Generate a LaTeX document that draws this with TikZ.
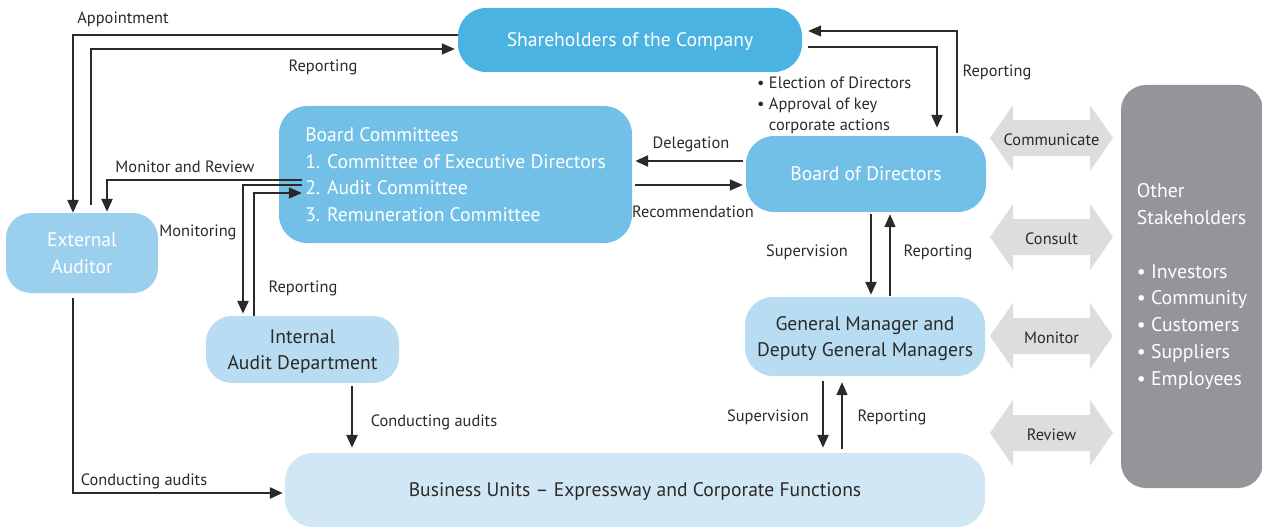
\documentclass[tikz,border=0pt]{standalone}
\usepackage{fontspec}
\setmainfont{PT Sans}
\usetikzlibrary{arrows.meta,calc}
\definecolor{ink}{HTML}{2B2A29}
\definecolor{shblue}{HTML}{4AB3E1}
\definecolor{midblue}{HTML}{72C0E8}
\definecolor{eablue}{HTML}{9AD0EE}
\definecolor{paleblue}{HTML}{B8DCF1}
\definecolor{bublue}{HTML}{D2E7F5}
\definecolor{stgray}{HTML}{939598}
\definecolor{argray}{HTML}{DCDDDE}
\begin{document}
\begin{tikzpicture}[x=1pt,y=-1pt,
  box/.style={rounded corners=28pt, inner sep=0pt, align=center,
    font=\fontsize{19.6}{26.5}\selectfont},
  lbl/.style={font=\fontsize{16.4}{21}\selectfont, text=ink, inner sep=0pt, yshift=-1.5pt},
  thk/.style={line width=2.6pt, draw=ink, -{Triangle[length=13pt,width=11pt]}},
  thn/.style={line width=1.6pt, draw=ink, -{Triangle[length=13pt,width=11pt]}},
]
\useasboundingbox (0,0) rectangle (1262,527);

% boxes
\node[box, fill=shblue, text=white, minimum width=344, minimum height=64, text depth=0pt] (sh) at (630,40) {Shareholders of the Company};
\node[box, fill=midblue, text=white, minimum width=353, minimum height=137, align=left] (bc) at (455.5,174.5)
  {Board Committees\\1. Committee of Executive Directors\\2. Audit Committee\\3. Remuneration Committee};
\node[box, fill=midblue, text=white, minimum width=240, minimum height=76] (bod) at (866,174) {Board of Directors};
\node[box, rounded corners=25pt, fill=eablue, text=white, minimum width=152, minimum height=80, text depth=0pt] (ea) at (82,253) {External\\Auditor};
\node[box, rounded corners=26pt, fill=paleblue, text=ink, minimum width=193, minimum height=67, text depth=0pt] (ia) at (302.5,349.5) {Internal\\Audit Department};
\node[box, fill=paleblue, text=ink, minimum width=240, minimum height=79, text depth=0pt] (gm) at (865,336.5) {General Manager and\\Deputy General Managers};
\node[box, fill=bublue, text=ink, minimum width=700, minimum height=74, text depth=0pt] (bu) at (635,490) {Business Units -- Expressway and Corporate Functions};
\node[box, rounded corners=25pt, fill=stgray, text=white, minimum width=142, minimum height=403, align=left,
  font=\fontsize{19.8}{26.8}\selectfont] (os) at (1192,286.5)
  {Other\\Stakeholders\\[26.8pt]\textbullet\ Investors\\\textbullet\ Community\\\textbullet\ Customers\\\textbullet\ Suppliers\\\textbullet\ Employees};

% two-way relations with other stakeholders
\foreach \yc/\txt/\nm in {138/Communicate/gcom, 237/Consult/gcon, 336/Monitor/gmon, 433/Review/grev}{
  \fill[argray] (990,\yc) -- (1013,\yc-33) -- (1013,\yc-18) -- (1090,\yc-18) -- (1090,\yc-33)
    -- (1113,\yc) -- (1090,\yc+33) -- (1090,\yc+18) -- (1013,\yc+18) -- (1013,\yc+33) -- cycle;
  \node[lbl, yshift=0pt] (\nm) at (1051.5,\yc) {\txt};
}

% shareholders <-> external auditor
\draw[thk] (sh.west |- 0,35) -| (ea.north -| 73,0);
\draw[thn, shorten >=3pt] ($(ea.north -| 91,0)+(0,-8)$) |- (sh.west |- 0,49);
\node[lbl] (l-app) at (123,18) {Appointment};
\node[lbl] (l-rep1) at (323,66) {Reporting};

% audit committee links
\draw[thk, shorten >=1pt] ($(bc.west |- 0,180)+(23,0)$) -| (ea.north -| 107,0);
\draw[thk, shorten >=2pt] ($(bc.west |- 0,185)+(23,0)$) -| (ia.north -| 243,0);
\draw[thn] (ia.north -| 254,0) |- ($(bc.west |- 0,193)+(23,0)$);
\node[lbl] (l-mr) at (185,165) {Monitor and Review};
\node[lbl] (l-mon) at (198,231) {Monitoring};
\node[lbl] (l-rep2) at (303,287) {Reporting};

% committees <-> board
\draw[thk, shorten <=3pt, shorten >=3pt] (bod.west |- 0,161) -- (bc.east |- 0,161);
\draw[thn, shorten <=3pt, shorten >=3pt] (bc.east |- 0,185) -- (bod.west |- 0,185);
\node[lbl] (l-del) at (691,143) {Delegation};
\node[lbl] (l-rec) at (693,210) {Recommendation};

% shareholders <-> board
\draw[thk, shorten <=6pt, shorten >=8pt] (sh.east |- 0,47) -| (bod.north -| 937,0);
\draw[thn, shorten <=3pt, shorten >=6pt] (bod.north -| 957,0) |- (sh.east |- 0,31);
\node[lbl, align=left, anchor=north west, yshift=0pt] (l-elect) at (757,75)
  {\textbullet\ Election of Directors\\\textbullet\ Approval of key\\\hphantom{\textbullet\ }corporate actions};
\node[lbl] (l-rep3) at (997,71) {Reporting};

% board <-> general manager
\draw[thk, shorten <=2pt, shorten >=2pt] (bod.south -| 871,0) -- (gm.north -| 871,0);
\draw[thn, shorten <=1pt, shorten >=2pt] (gm.north -| 890,0) -- (bod.south -| 890,0);
\node[lbl] (l-sup1) at (807,251) {Supervision};
\node[lbl] (l-rep4) at (938,251) {Reporting};

% general manager <-> business units
\draw[thk, shorten <=5pt, shorten >=5pt] (gm.south -| 823,0) -- (bu.north -| 823,0);
\draw[thn, shorten <=4pt, shorten >=6pt] (bu.north -| 842,0) -- (gm.south -| 842,0);
\node[lbl] (l-sup2) at (768,416) {Supervision};
\node[lbl] (l-rep5) at (892,416) {Reporting};

% audits of business units
\draw[thk, shorten <=3pt, shorten >=5pt] (ia.south -| 352,0) -- (bu.north -| 352,0);
\draw[thk, shorten <=5pt, shorten >=2pt] (ea.south -| 73,0) |- (bu.west |- 0,493);
\node[lbl] (l-ca1) at (434,421) {Conducting audits};
\node[lbl] (l-ca2) at (144,480) {Conducting audits};
\end{tikzpicture}
\end{document}
